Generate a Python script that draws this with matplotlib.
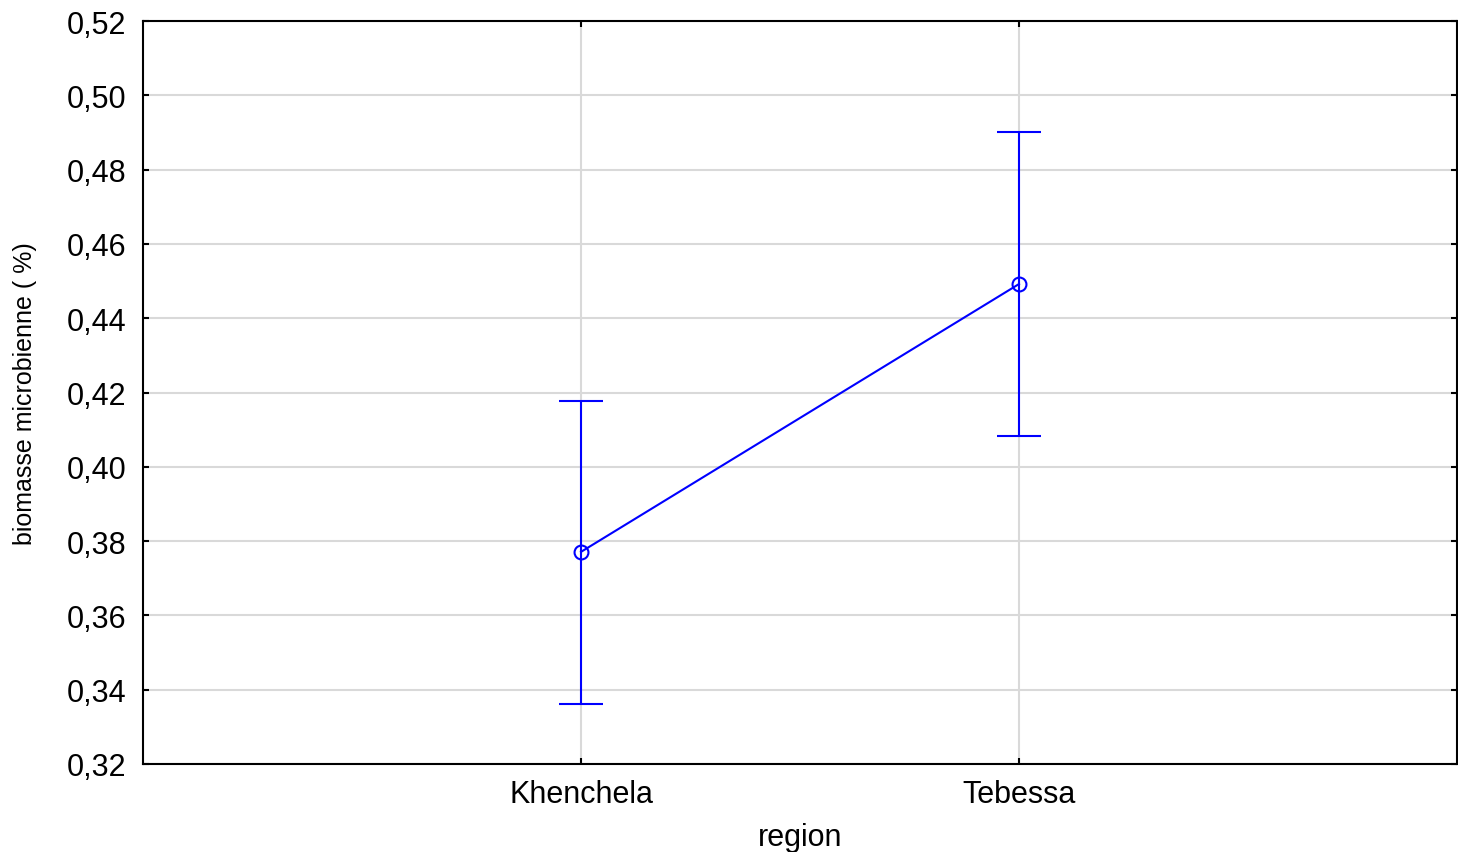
import matplotlib
matplotlib.use("Agg")
import matplotlib.pyplot as plt
from matplotlib import font_manager
from matplotlib.ticker import FuncFormatter, MultipleLocator

# --- data ---
regions = ["Khenchela", "Tebessa"]
means = [0.3771, 0.4492]
upper = [0.4177, 0.4901]
lower = [0.3362, 0.4083]

names = {f.name for f in font_manager.fontManager.ttflist}
base_font = "Liberation Sans" if "Liberation Sans" in names else "DejaVu Sans"
narrow_font = "Liberation Sans Narrow" if "Liberation Sans Narrow" in names else base_font
plt.rcParams["font.family"] = [base_font, "DejaVu Sans"]

fig = plt.figure(figsize=(14.58, 8.53), dpi=100)
ax = fig.add_axes([143 / 1458, 1 - 765 / 853, 1314 / 1458, 743 / 853])

x = list(range(len(regions)))
yerr = [[m - lo for m, lo in zip(means, lower)], [up - m for m, up in zip(means, upper)]]
ax.errorbar(x, means, yerr=yerr, color="#0000ff", lw=1.5, elinewidth=1.5,
            capsize=15.5, capthick=1.5, marker="o", markersize=10,
            markerfacecolor="none", markeredgecolor="#0000ff", markeredgewidth=1.5, zorder=3)

ax.set_xlim(-1, 2)
ax.set_ylim(0.32, 0.52)
ax.set_xticks(x)
ax.set_xticklabels(regions)
ax.yaxis.set_major_locator(MultipleLocator(0.02))
ax.yaxis.set_major_formatter(FuncFormatter(lambda v, p: f"{v:.2f}".replace(".", ",")))

ax.grid(True, color="#d9d9d9", lw=1.5, zorder=0)
ax.set_axisbelow(True)
for s in ax.spines.values():
    s.set_linewidth(1.5)
    s.set_color("black")

ax.tick_params(axis="both", direction="in", length=4, width=1.5, labelsize=22,
               top=True, right=True, pad=12)
ax.tick_params(axis="x", pad=11)

ax.set_xlabel("region", fontsize=22, labelpad=9)
ax.set_ylabel("biomasse microbienne ( %)", fontsize=18, family=[narrow_font, "DejaVu Sans"])
ax.yaxis.set_label_coords(-0.081, 0.5)

fig.savefig("out.png", dpi=100)
